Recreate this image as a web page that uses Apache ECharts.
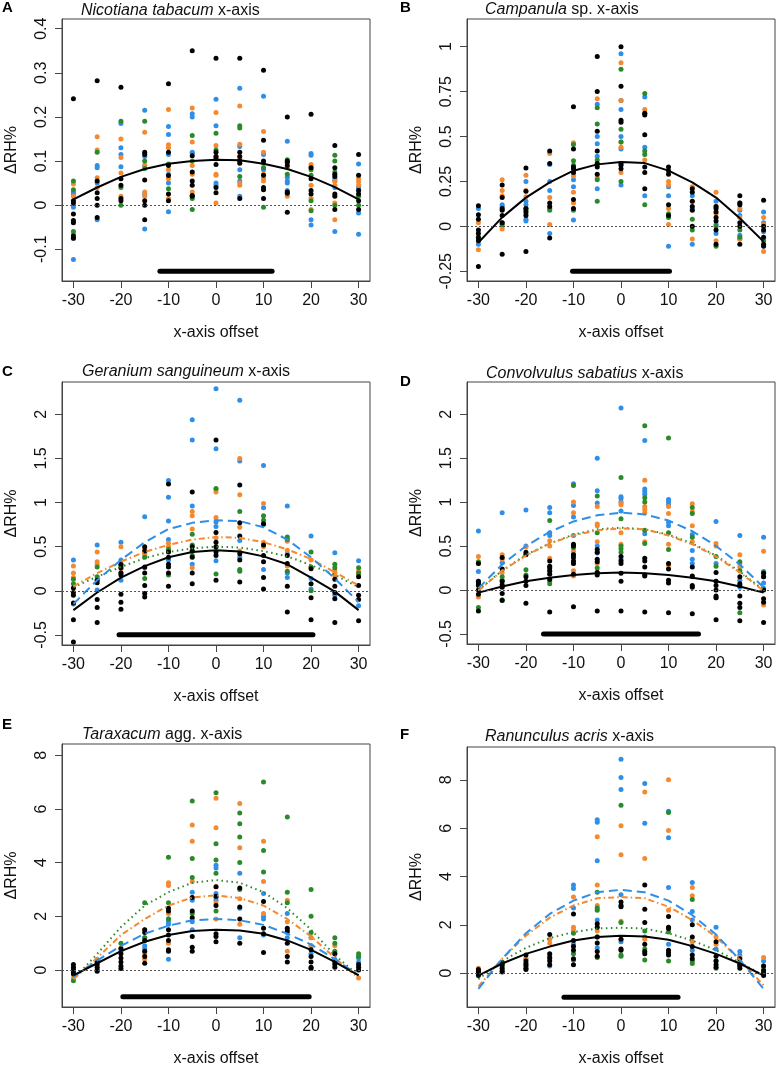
<!DOCTYPE html>
<html><head><meta charset="utf-8">
<script src="https://cdn.jsdelivr.net/npm/echarts@6/dist/echarts.min.js"></script>
<style>html,body{margin:0;padding:0;background:#fff}#c{width:777px;height:1069px}</style>
</head><body><div id="c"></div><script>
// ---------- DATA ----------
const xs = [-30, -25, -20, -15, -10, -5, 0, 5, 10, 15, 20, 25, 30];
const xTicks = [-30, -20, -10, 0, 10, 20, 30];

// Panel A: Nicotiana tabacum
const A_yTicks = [-0.1, 0, 0.1, 0.2, 0.3, 0.4];
const A_black = [
 [0.241, 0.01, 0.005, -0.02, -0.035, -0.04, -0.07, -0.075],
 [0.282, 0.055, 0.028, 0.015, 0.0, -0.028],
 [0.267, 0.06, 0.045, 0.015, 0.01],
 [0.12, 0.115, 0.057, 0.01, 0.0, -0.033],
 [0.275, 0.12, 0.09, 0.067, 0.025, 0.01],
 [0.35, 0.112, 0.075, 0.055, 0.045, 0.022, 0.02],
 [0.333, 0.12, 0.11, 0.105, 0.092, 0.04, 0.028],
 [0.333, 0.12, 0.11, 0.1, 0.095, 0.015],
 [0.306, 0.147, 0.1, 0.068, 0.04, 0.035, 0.015],
 [0.2, 0.1, 0.097, 0.09, 0.03, 0.027, -0.016],
 [0.206, 0.085, 0.06, 0.033, 0.025],
 [0.135, 0.085, 0.07, 0.065, 0.025, 0.02, -0.01],
 [0.115, 0.068, 0.033, 0.025, 0.01, -0.01]
];
const A_blue = [
 [0.03, 0.025, -0.005, -0.075, -0.123],
 [0.09, 0.085, 0.05, -0.033],
 [0.185, 0.13, 0.115, 0.087],
 [0.215, 0.11, 0.09, 0.025, -0.054],
 [0.178, 0.16, 0.115, 0.07, 0.05, -0.015],
 [0.207, 0.2, 0.12, 0.118],
 [0.24, 0.18, 0.05, 0.045],
 [0.265, 0.133, 0.08, 0.055, 0.02],
 [0.247, 0.118, 0.115, 0.08],
 [0.145, 0.063, 0.055, 0.05, 0.033],
 [0.117, 0.113, -0.033, -0.045],
 [0.06, 0.055, 0.04, -0.06],
 [0.093, 0.04, 0.035, -0.018, -0.066]
];
const A_orange = [
 [0.048, 0.02, -0.065],
 [0.155, 0.125, 0.062, 0.04],
 [0.15, 0.108, 0.073, 0.02],
 [0.165, 0.09, 0.03, 0.02],
 [0.217, 0.137, 0.13, 0.08, 0.06, 0.015],
 [0.22, 0.143, 0.09, 0.07, 0.03],
 [0.21, 0.135, 0.11, 0.07, 0.068, 0.005],
 [0.225, 0.138, 0.105, 0.05, 0.045],
 [0.167, 0.12, 0.07, 0.06, 0.055],
 [0.085, 0.02],
 [0.092, 0.087, 0.045, 0.015, -0.01],
 [0.055, 0.045, 0.005, -0.033],
 [0.06, 0.053, 0.045]
];
const A_green = [
 [0.055, 0.035, -0.06],
 [0.12],
 [0.19, 0.04, 0.0],
 [0.19, 0.1, 0.083],
 [0.093, 0.037],
 [0.158, 0.1, 0.015, -0.01],
 [0.163, 0.125],
 [0.18, 0.175, 0.065],
 [0.095, 0.085, -0.005],
 [0.103, 0.07],
 [0.08, 0.068, 0.01, -0.013],
 [0.113, 0.1, 0.075, 0.0],
 [0.02, 0.0]
];
const A_fit_black = [0.013, 0.04, 0.064, 0.082, 0.094, 0.1, 0.103, 0.102, 0.094, 0.082, 0.064, 0.041, 0.013];
const A_bar = [-11.8, 11.8];
const A_barY = -0.15;

// Panel B: Campanula sp.
const B_yTicks = [-0.25, 0, 0.25, 0.5, 0.75, 1];
const B_black = [
 [0.115, 0.065, 0.04, -0.02, -0.04, -0.06, -0.08, -0.223],
 [0.23, 0.16, 0.1, 0.09, 0.06, 0.02, -0.155],
 [0.325, 0.195, 0.1, 0.08, 0.06, -0.14],
 [0.42, 0.35, 0.13, 0.11, -0.065],
 [0.665, 0.43, 0.33, 0.32, 0.3, 0.15, 0.1],
 [0.945, 0.75, 0.53, 0.42, 0.35, 0.33, 0.29],
 [1.0, 0.78, 0.59, 0.58, 0.35, 0.34, 0.32],
 [0.63, 0.62, 0.51, 0.33, 0.3, 0.21],
 [0.33, 0.31, 0.29, 0.12, 0.06],
 [0.21, 0.19, 0.14, 0.11, 0.09, 0.0],
 [0.11, 0.1, 0.08, 0.05, 0.03, -0.02, -0.1],
 [0.17, 0.13, 0.12, 0.02, 0.0, -0.1],
 [0.145, 0.0, -0.02, -0.06, -0.1, -0.11]
];
const B_blue = [
 [0.1, -0.1],
 [0.12, 0.11],
 [0.25, 0.14, 0.12, 0.04, 0.03],
 [0.345, 0.25, 0.2, -0.04],
 [0.3, 0.26, 0.22, 0.035],
 [0.68, 0.5, 0.46, 0.39, 0.21],
 [0.96, 0.7, 0.65, 0.5, 0.43, 0.23],
 [0.72, 0.44, 0.17],
 [0.22, 0.17, -0.11],
 [0.17, 0.1, -0.1],
 [0.14, 0.01, -0.04],
 [0.13, 0.09, 0.06, -0.05, -0.07],
 [0.08, 0.02, -0.03]
];
const B_orange = [
 [0.02, -0.13],
 [0.26, 0.2, 0.17, 0.0, -0.015],
 [0.285, 0.2, 0.165, 0.07],
 [0.405, 0.16, 0.01],
 [0.465, 0.28, 0.19, 0.13],
 [0.71, 0.34, 0.27],
 [0.91, 0.7, 0.47, 0.44, 0.3],
 [0.65, 0.63, 0.37],
 [0.25, 0.23, 0.1, 0.01],
 [0.22, 0.14, -0.07],
 [0.19, 0.11, 0.07, -0.08],
 [0.1, 0.05, -0.07],
 [0.05, 0.01, -0.14]
];
const B_green = [
 [-0.07],
 [0.02, 0.01],
 [0.1, 0.09],
 [0.1, 0.09],
 [0.455, 0.365, 0.34, 0.09],
 [0.66, 0.57, 0.37, 0.26, 0.14],
 [0.875, 0.54, 0.47, 0.25],
 [0.74, 0.42, 0.4, 0.12],
 [0.07, 0.05],
 [0.04, -0.02],
 [0.0, -0.11],
 [-0.02, -0.06],
 [-0.08]
];
const B_fit_black = [-0.09, 0.05, 0.16, 0.245, 0.31, 0.345, 0.358, 0.352, 0.31, 0.245, 0.16, 0.045, -0.085];
const B_bar = [-10.2, 10.2];
const B_barY = -0.25;

// Panel C: Geranium sanguineum
const C_yTicks = [-0.5, 0, 0.5, 1, 1.5, 2];
const C_black = [
 [0.03, -0.02, -0.05, -0.14, -0.33, -0.58],
 [0.12, 0.09, -0.1, -0.19, -0.36],
 [0.3, 0.26, 0.2, 0.18, -0.04, -0.13, -0.21],
 [0.5, 0.45, 0.27, 0.2, 0.06, -0.03, -0.07],
 [1.21, 0.44, 0.38, 0.3, 0.27, 0.2, 0.05],
 [1.12, 0.5, 0.45, 0.38, 0.2, 0.08],
 [1.71, 0.66, 0.55, 0.5, 0.44, 0.4, 0.12],
 [1.2, 0.77, 0.62, 0.42, 0.35, 0.1],
 [0.76, 0.52, 0.4, 0.33, 0.15, 0.02],
 [0.4, 0.31, 0.05, -0.24],
 [0.25, 0.08, -0.08, -0.33],
 [0.13, 0.05, -0.02, -0.09, -0.36],
 [0.16, 0.06, -0.05, -0.1, -0.34]
];
const C_blue = [
 [0.35, -0.15],
 [0.52, 0.01],
 [0.55, 0.35, 0.12],
 [0.84, 0.43, 0.26],
 [1.25, 1.06, 0.79, 0.58, 0.35],
 [1.94, 1.71, 0.96, 0.3],
 [2.29, 1.61, 0.78, 0.73, 0.34],
 [2.16, 1.47, 0.57, 0.38],
 [1.42, 0.94, 0.24],
 [0.96, 0.42, 0.2, 0.15],
 [0.62, 0.14, 0.02],
 [0.43, -0.05],
 [0.34, -0.17]
];
const C_orange = [
 [0.28, 0.2, 0.15],
 [0.44, 0.33, 0.3],
 [0.5, 0.3, 0.25],
 [0.48, 0.4],
 [0.54, 0.5, 0.45],
 [0.9, 0.85, 0.7, 0.26],
 [1.15, 1.12, 0.83, 0.6],
 [1.5, 1.09, 0.72, 0.45],
 [0.99, 0.55, 0.5],
 [0.56, 0.46, 0.28],
 [0.35, 0.27],
 [0.23, 0.2, 0.17],
 [0.22, 0.19]
];
const C_green = [
 [0.13, 0.08],
 [0.27, 0.16],
 [0.28, 0.2],
 [0.38, 0.14],
 [0.47, 0.18],
 [0.64, 0.52, 0.45, 0.4],
 [1.16, 0.5, 0.19],
 [0.9, 0.24, 0.22],
 [0.85, 0.8, 0.75],
 [0.61, 0.58, 0.22],
 [0.44, 0.27, 0.0],
 [0.3, 0.26],
 [0.26, 0.2]
];
const C_fit_black = [-0.22, -0.02, 0.15, 0.28, 0.38, 0.44, 0.46, 0.445, 0.39, 0.3, 0.15, -0.01, -0.22];
const C_fit_blue = [-0.15, 0.12, 0.35, 0.55, 0.7, 0.77, 0.8, 0.79, 0.72, 0.58, 0.38, 0.14, -0.13];
const C_fit_orange = [0.05, 0.2, 0.33, 0.44, 0.52, 0.58, 0.61, 0.6, 0.55, 0.47, 0.36, 0.21, 0.06];
const C_fit_green = [0.04, 0.16, 0.27, 0.37, 0.44, 0.48, 0.5, 0.49, 0.45, 0.39, 0.29, 0.18, 0.04];
const C_bar = [-20.4, 20.4];
const C_barY = -0.5;

// Panel D: Convolvulus sabatius
const D_yTicks = [-0.5, 0, 0.5, 1, 1.5, 2];
const D_black = [
 [0.3, 0.1, 0.08, 0.05, 0.0, -0.05, -0.24],
 [0.37, 0.24, 0.1, 0.06, 0.03, -0.04, -0.12],
 [0.43, 0.4, 0.15, 0.1, 0.05, -0.15],
 [0.33, 0.27, 0.25, 0.22, 0.18, 0.12, -0.25],
 [0.52, 0.5, 0.4, 0.37, 0.33, 0.3, 0.18, -0.19],
 [0.46, 0.43, 0.35, 0.32, 0.2, 0.17, -0.24],
 [0.38, 0.33, 0.3, 0.19, 0.1, -0.24],
 [0.36, 0.33, 0.26, 0.17, 0.16, -0.25],
 [0.3, 0.24, 0.11, 0.08, -0.26],
 [0.26, 0.16, 0.05, 0.03, -0.27],
 [0.2, 0.1, 0.05, 0.0, -0.07, -0.09, -0.34],
 [0.15, 0.07, 0.05, -0.07, -0.15, -0.2, -0.35],
 [0.19, 0.15, 0.0, -0.1, -0.14, -0.37]
];
const D_blue = [
 [0.67, 0.21, 0.1],
 [0.88, 0.31],
 [0.91, 0.5],
 [0.94, 0.88, 0.65, 0.62],
 [1.21, 0.96, 0.83, 0.62],
 [1.5, 1.13, 0.99, 0.5, 0.42],
 [2.07, 1.06, 1.04, 1.0, 0.9, 0.35],
 [1.7, 1.15, 1.12, 1.09, 0.64],
 [1.03, 1.0, 0.97, 0.77, 0.73],
 [0.63, 0.45, 0.35, 0.3],
 [0.78, 0.3, 0.1],
 [0.62, 0.11, 0.03],
 [0.6, 0.21, 0.08, 0.02]
];
const D_orange = [
 [0.38, 0.3, -0.08],
 [0.4, 0.35, 0.2],
 [0.49, 0.41],
 [0.56, 0.5, 0.36, 0.1],
 [1.0, 0.88, 0.44, 0.3, 0.22, 0.16],
 [0.95, 0.75, 0.73, 0.55, 0.3],
 [0.99, 0.97, 0.65, 0.52],
 [1.25, 0.95, 0.92, 0.88, 0.55],
 [0.95, 0.87, 0.52, 0.28],
 [0.98, 0.89, 0.73, 0.55],
 [0.53, 0.5],
 [0.4, 0.3, 0.26],
 [0.44, -0.17]
];
const D_green = [
 [0.32, 0.06, -0.2],
 [0.15, 0.11, -0.11],
 [0.23, 0.17],
 [0.79, 0.21, 0.07],
 [1.19, 0.48, 0.4],
 [1.07, 0.65, 0.25, 0.2],
 [1.28, 0.81, 0.5, 0.47, 0.43],
 [1.87, 1.05, 1.0, 0.68, 0.53],
 [1.73, 0.65, 0.46],
 [0.94, 0.87, 0.6, 0.15],
 [0.38, 0.27, -0.09],
 [0.32, 0.22, -0.26],
 [0.2, 0.15]
];
const D_fit_black = [-0.03, 0.04, 0.1, 0.14, 0.17, 0.19, 0.2, 0.19, 0.17, 0.14, 0.1, 0.04, -0.03];
const D_fit_blue = [0.02, 0.29, 0.5, 0.66, 0.78, 0.85, 0.88, 0.86, 0.79, 0.67, 0.5, 0.29, 0.03];
const D_fit_orange = [-0.01, 0.22, 0.39, 0.53, 0.62, 0.68, 0.7, 0.69, 0.62, 0.52, 0.38, 0.2, -0.01];
const D_fit_green = [0.0, 0.22, 0.4, 0.53, 0.63, 0.69, 0.71, 0.69, 0.63, 0.53, 0.39, 0.21, 0.0];
const D_bar = [-16.3, 16.3];
const D_barY = -0.5;

// Panel E: Taraxacum agg.
const E_yTicks = [0, 2, 4, 6, 8];
const E_black = [
 [0.2, 0.1, 0.0, -0.1, -0.15],
 [0.3, 0.2, 0.1, 0.0, -0.05],
 [0.8, 0.6, 0.45, 0.3, 0.15, 0.05],
 [1.5, 1.4, 1.1, 0.7, 0.5, 0.25],
 [2.3, 2.2, 1.5, 1.3, 1.1, 0.75, 0.7],
 [2.7, 2.2, 1.95, 1.25, 0.85, 0.7],
 [3.1, 2.75, 2.4, 1.35, 1.25, 1.05],
 [3.05, 2.35, 1.9, 1.0],
 [2.55, 1.55, 1.35, 0.65],
 [1.55, 1.45, 1.0, 0.5, 0.3],
 [0.75, 0.5, 0.3, 0.1, 0.05],
 [0.6, 0.3, 0.2, 0.1],
 [0.2, 0.1, 0.0]
];
const E_blue = [
 [0.05],
 [0.3],
 [0.7],
 [1.2, 0.9, 0.8],
 [1.9, 1.8, 1.7, 0.4],
 [2.9, 2.6, 1.8, 1.5],
 [3.9, 3.8, 2.85, 2.7, 2.6],
 [3.6, 2.3, 1.2],
 [2.85, 2.0, 1.9, 1.3],
 [2.1, 1.4, 1.2],
 [1.2, 0.9, 0.6],
 [0.6, 0.4],
 [0.45, 0.3]
];
const E_orange = [
 [-0.3],
 [0.4],
 [0.8],
 [1.5, 0.6, 0.4],
 [3.25, 3.15, 2.1, 1.0],
 [5.4, 4.8, 3.3, 2.7],
 [6.4, 5.3, 3.1, 2.5, 1.9],
 [6.2, 4.55, 2.65, 1.7],
 [4.8, 3.3, 2.1],
 [2.6, 1.8, 0.7],
 [1.2, 0.9],
 [0.9],
 [-0.3]
];
const E_green = [
 [-0.4],
 [0.35],
 [1.0],
 [2.5, 1.2],
 [4.2, 2.5, 1.9],
 [6.3, 4.15, 3.45, 2.1],
 [6.6, 4.7, 4.1, 3.6, 2.2],
 [5.85, 5.45, 4.95, 4.0, 3.0],
 [7.0, 4.45, 3.65],
 [5.7, 2.9, 2.5],
 [3.0, 2.0, 1.4],
 [1.2, 1.0, 0.7],
 [0.6, 0.5]
];
const E_fit_black = [-0.2, 0.25, 0.7, 1.05, 1.3, 1.45, 1.5, 1.47, 1.35, 1.1, 0.75, 0.3, -0.2];
const E_fit_blue = [-0.25, 0.35, 0.9, 1.35, 1.65, 1.85, 1.9, 1.85, 1.68, 1.35, 0.95, 0.4, -0.2];
const E_fit_orange = [-0.35, 0.45, 1.3, 1.9, 2.4, 2.7, 2.78, 2.68, 2.4, 1.9, 1.25, 0.45, -0.3];
const E_fit_green = [-0.35, 0.6, 1.6, 2.4, 2.9, 3.25, 3.35, 3.25, 2.9, 2.3, 1.5, 0.55, -0.2];
const E_bar = [-19.6, 19.6];
const E_barY = -1;

// Panel F: Ranunculus acris
const F_yTicks = [0, 2, 4, 6, 8];
const F_black = [
 [0.15, 0.05, 0.0, -0.1],
 [0.45, 0.35, 0.2, 0.1, 0.05],
 [0.75, 0.5, 0.4, 0.3, 0.2, 0.15],
 [1.6, 0.8, 0.65, 0.5, 0.35],
 [2.45, 1.35, 1.1, 0.95, 0.6, 0.35],
 [2.05, 1.9, 1.5, 1.25, 0.9, 0.7],
 [2.95, 2.8, 2.75, 1.4, 1.0, 0.95],
 [3.65, 2.65, 2.1, 1.2, 0.9, 0.8],
 [2.35, 1.9, 1.85, 0.95, 0.85, 0.75],
 [2.0, 1.5, 1.1, 0.75, 0.6],
 [1.3, 0.7, 0.5, 0.35, 0.25],
 [0.6, 0.35, 0.3, 0.2],
 [0.3, 0.1, 0.0, -0.1]
];
const F_blue = [
 [0.1],
 [0.4],
 [0.6],
 [0.75, 0.3],
 [3.65, 3.5, 2.7, 1.2],
 [6.35, 6.25, 4.65, 2.2, 1.05],
 [8.85, 8.1, 7.6, 3.25, 1.3],
 [7.85, 6.2, 1.5],
 [6.7, 5.6, 3.55, 1.2],
 [3.75, 2.55, 2.2, 0.95],
 [1.9, 1.0],
 [0.9, 0.75],
 [0.5, 0.3]
];
const F_orange = [
 [0.2],
 [0.4],
 [0.6],
 [1.4, 1.25],
 [3.15, 1.9, 1.8],
 [5.65, 3.65, 2.8, 1.75],
 [6.1, 4.9, 2.15, 1.4],
 [7.5, 4.75, 1.4],
 [8.0, 5.9, 2.6],
 [3.55, 3.2, 1.3],
 [1.5, 1.2],
 [0.65, 0.5],
 [0.65]
];
const F_green = [
 [0.05],
 [0.3],
 [0.35],
 [0.6],
 [1.65, 0.8, 0.55],
 [3.35, 2.7, 2.6, 1.5, 0.65],
 [6.95, 2.1, 0.75, 0.7],
 [1.75, 1.0, 0.55],
 [6.65, 1.7, 0.5],
 [3.05, 0.5, 0.4],
 [0.5, 0.2],
 [0.4],
 [0.15]
];
const F_fit_black = [-0.1, 0.4, 0.8, 1.1, 1.35, 1.5, 1.55, 1.52, 1.38, 1.12, 0.8, 0.4, -0.1];
const F_fit_blue = [-0.65, 0.6, 1.65, 2.45, 3.0, 3.35, 3.45, 3.35, 3.0, 2.4, 1.6, 0.55, -0.65];
const F_fit_orange = [-0.55, 0.6, 1.55, 2.3, 2.8, 3.1, 3.15, 3.1, 2.75, 2.2, 1.5, 0.55, -0.5];
const F_fit_green = [-0.25, 0.5, 1.05, 1.45, 1.7, 1.85, 1.88, 1.85, 1.65, 1.35, 0.95, 0.45, -0.1];
const F_bar = [-12, 12];
const F_barY = -1;

// ---------- CHART ----------
const FONT = 'Liberation Sans, Arial, sans-serif';
const COL = {black: '#000000', blue: '#2F8FE8', orange: '#F5892F', green: '#2A8A2A'};
const DASH = {black: 'solid', blue: [9, 5], orange: [6, 3, 1.5, 3], green: [1.5, 3.5]};

const panels = [
 {letter: 'A', it: 'Nicotiana tabacum', rest: ' x-axis', g: {left: 62, top: 19, width: 308, height: 262}, y: [-0.172, 0.422], yt: A_yTicks,
  pts: {blue: A_blue, orange: A_orange, green: A_green, black: A_black}, fits: {black: A_fit_black}, bar: A_bar, barY: A_barY, tp: [81, 11], lp: [2, 8]},
 {letter: 'B', it: 'Campanula', rest: ' sp. x-axis', g: {left: 467, top: 19, width: 308, height: 262}, y: [-0.304, 1.154], yt: B_yTicks,
  pts: {blue: B_blue, orange: B_orange, green: B_green, black: B_black}, fits: {black: B_fit_black}, bar: B_bar, barY: B_barY, tp: [485, 10], lp: [400, 8]},
 {letter: 'C', it: 'Geranium sanguineum', rest: ' x-axis', g: {left: 62, top: 382, width: 308, height: 263}, y: [-0.615, 2.367], yt: C_yTicks,
  pts: {blue: C_blue, orange: C_orange, green: C_green, black: C_black}, fits: {green: C_fit_green, orange: C_fit_orange, blue: C_fit_blue, black: C_fit_black}, bar: C_bar, barY: C_barY, tp: [82, 372], lp: [2, 372]},
 {letter: 'D', it: 'Convolvulus sabatius', rest: ' x-axis', g: {left: 467, top: 382, width: 308, height: 262}, y: [-0.615, 2.367], yt: D_yTicks,
  pts: {blue: D_blue, orange: D_orange, green: D_green, black: D_black}, fits: {green: D_fit_green, orange: D_fit_orange, blue: D_fit_blue, black: D_fit_black}, bar: D_bar, barY: D_barY, tp: [486, 374], lp: [400, 382]},
 {letter: 'E', it: 'Taraxacum', rest: ' agg. x-axis', g: {left: 62, top: 744, width: 308, height: 263}, y: [-1.38, 8.42], yt: E_yTicks,
  pts: {blue: E_blue, orange: E_orange, green: E_green, black: E_black}, fits: {green: E_fit_green, orange: E_fit_orange, blue: E_fit_blue, black: E_fit_black}, bar: E_bar, barY: E_barY, tp: [82, 735], lp: [2, 725]},
 {letter: 'F', it: 'Ranunculus acris', rest: ' x-axis', g: {left: 467, top: 747, width: 308, height: 260}, y: [-1.40, 9.36], yt: F_yTicks,
  pts: {blue: F_blue, orange: F_orange, green: F_green, black: F_black}, fits: {green: F_fit_green, orange: F_fit_orange, blue: F_fit_blue, black: F_fit_black}, bar: F_bar, barY: F_barY, tp: [485, 737], lp: [400, 735]}
];

const grids = [], xAxes = [], yAxes = [], series = [], titles = [];
panels.forEach((p, i) => {
  grids.push(Object.assign({show: true, borderColor: '#444', borderWidth: 1, backgroundColor: 'transparent'}, p.g));
  xAxes.push({
    gridIndex: i, type: 'value', min: -32.4, max: 32.4,
    axisLine: {show: true, onZero: false, lineStyle: {color: '#444', width: 1}},
    axisTick: {show: true, length: 7, customValues: xTicks, lineStyle: {color: '#444'}},
    axisLabel: {customValues: xTicks, fontSize: 16, fontFamily: FONT, color: '#111', margin: 12},
    splitLine: {show: false},
    name: 'x-axis offset', nameLocation: 'middle', nameGap: 44,
    nameTextStyle: {fontSize: 16, fontFamily: FONT, color: '#111'}
  });
  yAxes.push({
    gridIndex: i, type: 'value', min: p.y[0], max: p.y[1],
    axisLine: {show: true, onZero: false, lineStyle: {color: '#444', width: 1}},
    axisTick: {show: true, length: 7, customValues: p.yt, lineStyle: {color: '#444'}},
    axisLabel: {customValues: p.yt, rotate: 90, fontSize: 16, fontFamily: FONT, color: '#111', margin: 12},
    splitLine: {show: false},
    name: 'ΔRH%', nameLocation: 'middle', nameGap: 42, nameRotate: 90,
    nameTextStyle: {fontSize: 16, fontFamily: FONT, color: '#111'}
  });
  let first = true;
  Object.keys(p.pts).forEach(c => {
    const data = [];
    p.pts[c].forEach((vals, k) => vals.forEach(v => data.push([xs[k], v])));
    const s = {
      type: 'scatter', xAxisIndex: i, yAxisIndex: i, data: data, symbolSize: 5,
      itemStyle: {color: COL[c], opacity: 1}, silent: true, animation: false
    };
    if (first) {
      s.markLine = {silent: true, symbol: 'none', animation: false, label: {show: false},
        lineStyle: {type: [2, 2], color: '#555', width: 1}, data: [{yAxis: 0}]};
      first = false;
    }
    series.push(s);
  });
  Object.keys(p.fits).forEach(c => {
    series.push({
      type: 'line', xAxisIndex: i, yAxisIndex: i, showSymbol: false, silent: true, animation: false,
      data: xs.map((x, k) => [x, p.fits[c][k]]),
      lineStyle: {color: COL[c], width: 2, type: DASH[c]}
    });
  });
  series.push({
    type: 'line', xAxisIndex: i, yAxisIndex: i, showSymbol: false, silent: true, animation: false,
    data: p.bar.map(x => [x, p.barY]),
    lineStyle: {color: '#000', width: 5, cap: 'round'}
  });
  titles.push({
    text: '{i|' + p.it + '}{n|' + p.rest + '}', left: p.tp[0], top: p.tp[1] - 9, padding: 0,
    textStyle: {fontFamily: FONT, fontSize: 16, fontWeight: 'normal', color: '#111',
      rich: {i: {fontStyle: 'italic', fontFamily: FONT, fontSize: 16, color: '#111', lineHeight: 18},
             n: {fontFamily: FONT, fontSize: 16, color: '#111', lineHeight: 18}}}
  });
  titles.push({
    text: p.letter, left: p.lp[0], top: p.lp[1] - 9, padding: 0,
    textStyle: {fontFamily: FONT, fontSize: 15, fontWeight: 'bold', color: '#000', lineHeight: 18}
  });
});

const chart = echarts.init(document.getElementById('c'), null, {renderer: 'canvas'});
chart.setOption({
  animation: false, backgroundColor: '#fff',
  title: titles, grid: grids, xAxis: xAxes, yAxis: yAxes, series: series
});
</script></body></html>
